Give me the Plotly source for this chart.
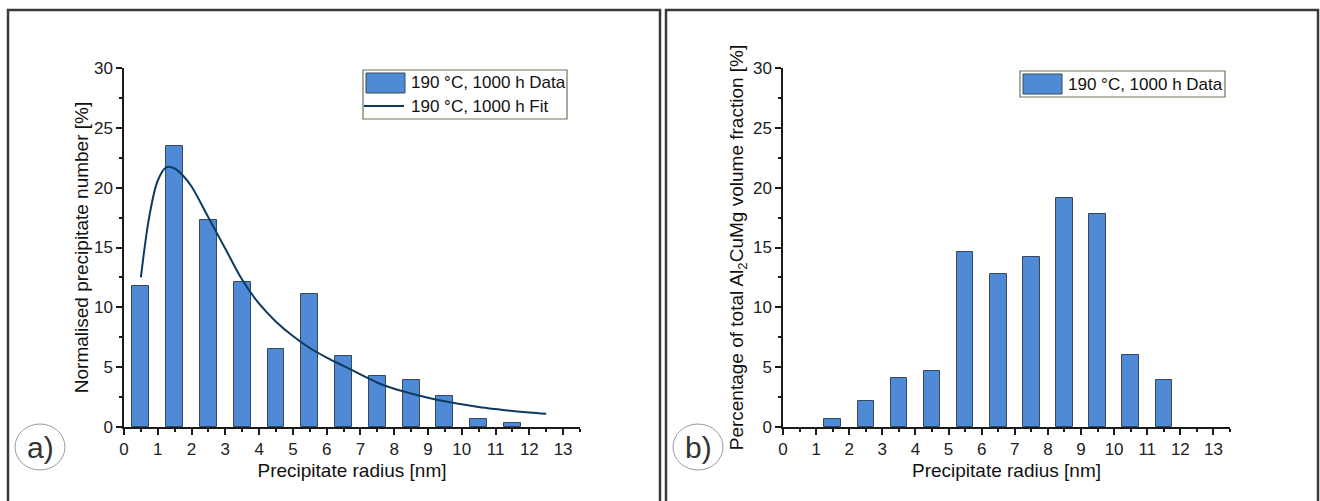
import plotly.graph_objects as go

# ---------------- data ----------------
radius_bins = [0.5, 1.5, 2.5, 3.5, 4.5, 5.5, 6.5, 7.5, 8.5, 9.5, 10.5, 11.5]
number_pct = [11.8, 23.5, 17.3, 12.1, 6.5, 11.1, 5.9, 4.3, 3.9, 2.6, 0.65, 0.3]
volume_pct = [None, 0.65, 2.15, 4.1, 4.7, 14.65, 12.8, 14.2, 19.1, 17.8, 6.0, 3.95]

fit_x = [0.5, 0.75, 1.0, 1.25, 1.5, 1.75, 2.0, 2.5, 3.0, 3.5, 4.0, 4.5, 5.0, 5.5,
         6.0, 6.5, 7.0, 7.5, 8.0, 8.5, 9.0, 9.5, 10.0, 10.5, 11.0, 11.5, 12.0, 12.5]
fit_y = [12.5, 17.6, 20.6, 21.7, 21.6, 21.0, 20.1, 17.5, 14.9, 12.3, 10.3, 8.8, 7.6, 6.6,
         5.8, 5.1, 4.4, 3.7, 3.2, 2.8, 2.45, 2.15, 1.9, 1.68, 1.5, 1.34, 1.21, 1.1]

x_ticks = list(range(0, 14))
y_ticks = [0, 5, 10, 15, 20, 25, 30]

data_label = "190 °C, 1000 h Data"
fit_label = "190 °C, 1000 h Fit"

# ---------------- style ----------------
W, H = 1320, 501
BAR_FILL = "#4F8AD6"
BAR_LINE = "#34495e"
FIT_COLOR = "#0F3A5F"
FONT = "Liberation Sans, Arial, sans-serif"
TICK_FONT = "Liberation Sans Narrow, Arial Narrow, Liberation Sans, Arial, sans-serif"


def px(x):
    return x / W


def py(y):
    return 1 - y / H


fig = go.Figure()

fig.add_trace(go.Bar(x=radius_bins, y=number_pct, width=0.5, name=data_label,
                     marker=dict(color=BAR_FILL, line=dict(color=BAR_LINE, width=1)),
                     xaxis="x", yaxis="y", showlegend=False))
fig.add_trace(go.Scatter(x=fit_x, y=fit_y, mode="lines", name=fit_label,
                         line=dict(color=FIT_COLOR, width=2, shape="spline"),
                         xaxis="x", yaxis="y", showlegend=False))
fig.add_trace(go.Bar(x=radius_bins, y=volume_pct, width=0.5, name=data_label,
                     marker=dict(color=BAR_FILL, line=dict(color=BAR_LINE, width=1)),
                     xaxis="x2", yaxis="y2", showlegend=False))

axis_common = dict(
    automargin=False,
    showline=True, linecolor="#1a1a1a", linewidth=1.5,
    ticks="outside", ticklen=6, tickwidth=1.5, tickcolor="#1a1a1a",
    showgrid=False, zeroline=False,
    tickfont=dict(family=TICK_FONT, size=17, color="#222"),
    title_font=dict(family=FONT, size=19, color="#111"),
)

minor_x = dict(ticks="outside", ticklen=3, tickwidth=1.5, dtick=0.5, tick0=0, tickcolor="#1a1a1a")
minor_y = dict(ticks="outside", ticklen=3, tickwidth=1.5, dtick=2.5, tick0=0, tickcolor="#1a1a1a")

ydom = [py(427), py(68)]

fig.update_layout(
    width=W, height=H,
    margin=dict(l=0, r=0, t=0, b=0, autoexpand=False),
    paper_bgcolor="white", plot_bgcolor="white",
    bargap=0,
    xaxis=dict(domain=[px(124), px(580)], range=[0, 13.5], tickvals=x_ticks, minor=minor_x,
               title=dict(text="Precipitate radius [nm]", standoff=6), anchor="y", **axis_common),
    yaxis=dict(domain=ydom, range=[0, 30], tickvals=y_ticks, minor=minor_y,
               title=dict(text="Normalised precipitate number [%]", standoff=0), anchor="x", **axis_common),
    xaxis2=dict(domain=[px(783), px(1230)], range=[0, 13.5], tickvals=x_ticks, minor=minor_x,
                title=dict(text="Precipitate radius [nm]", standoff=6), anchor="y2", **axis_common),
    yaxis2=dict(domain=ydom, range=[0, 30], tickvals=y_ticks, minor=minor_y,
                title=dict(text="Percentage of total Al<sub>2</sub>CuMg volume fraction [%]", standoff=4),
                anchor="x2", **axis_common),
)

shapes = []
annotations = []

# panel frames
for x0, x1 in [(8, 660), (666, 1318)]:
    shapes.append(dict(type="rect", xref="paper", yref="paper",
                       x0=px(x0), x1=px(x1), y0=py(540), y1=py(10),
                       line=dict(color="#3a3a3a", width=2.5), fillcolor="rgba(0,0,0,0)", layer="below"))

# panel labels in circles
for cx, cy, lab in [(40, 447, "a)"), (698, 447, "b)")]:
    shapes.append(dict(type="circle", xref="paper", yref="paper",
                       x0=px(cx - 25), x1=px(cx + 25), y0=py(cy + 23), y1=py(cy - 23),
                       line=dict(color="#9a9a9a", width=1)))
    annotations.append(dict(xref="paper", yref="paper", x=px(cx), y=py(cy), text=lab,
                            showarrow=False, xanchor="center", yanchor="middle",
                            font=dict(family=FONT, size=30, color="#333")))

# legends (drawn manually to match the large swatches)
LEG_BORDER = "#6f7458"
leg_font = dict(family=FONT, size=17, color="#111")

# left legend
shapes.append(dict(type="rect", xref="paper", yref="paper", x0=px(363), x1=px(567), y0=py(119), y1=py(70),
                   line=dict(color=LEG_BORDER, width=1.2), fillcolor="white"))
shapes.append(dict(type="rect", xref="paper", yref="paper", x0=px(366), x1=px(405), y0=py(93), y1=py(73),
                   line=dict(color=BAR_LINE, width=1), fillcolor=BAR_FILL))
shapes.append(dict(type="line", xref="paper", yref="paper", x0=px(364), x1=px(404), y0=py(106), y1=py(106),
                   line=dict(color=FIT_COLOR, width=2)))
annotations.append(dict(xref="paper", yref="paper", x=px(409), y=py(83), text=data_label, showarrow=False,
                        xanchor="left", yanchor="middle", font=leg_font))
annotations.append(dict(xref="paper", yref="paper", x=px(409), y=py(106), text=fit_label, showarrow=False,
                        xanchor="left", yanchor="middle", font=leg_font))

# right legend
shapes.append(dict(type="rect", xref="paper", yref="paper", x0=px(1020), x1=px(1225), y0=py(97), y1=py(71),
                   line=dict(color=LEG_BORDER, width=1.2), fillcolor="white"))
shapes.append(dict(type="rect", xref="paper", yref="paper", x0=px(1023), x1=px(1062), y0=py(94), y1=py(74),
                   line=dict(color=BAR_LINE, width=1), fillcolor=BAR_FILL))
annotations.append(dict(xref="paper", yref="paper", x=px(1066), y=py(84), text=data_label, showarrow=False,
                        xanchor="left", yanchor="middle", font=leg_font))

fig.update_layout(shapes=shapes, annotations=annotations)

fig.write_html(
    "out.html",
    config={"displayModeBar": False},
    post_script=(
        "var gd=document.getElementById('{plot_id}');"
        "gd.style.position='fixed';gd.style.left='0px';gd.style.top='0px';"
        "document.documentElement.style.margin='0';document.documentElement.style.padding='0';"
        "document.body.style.margin='0';document.body.style.padding='0';"
        "document.body.style.overflow='hidden';"
    ),
)
